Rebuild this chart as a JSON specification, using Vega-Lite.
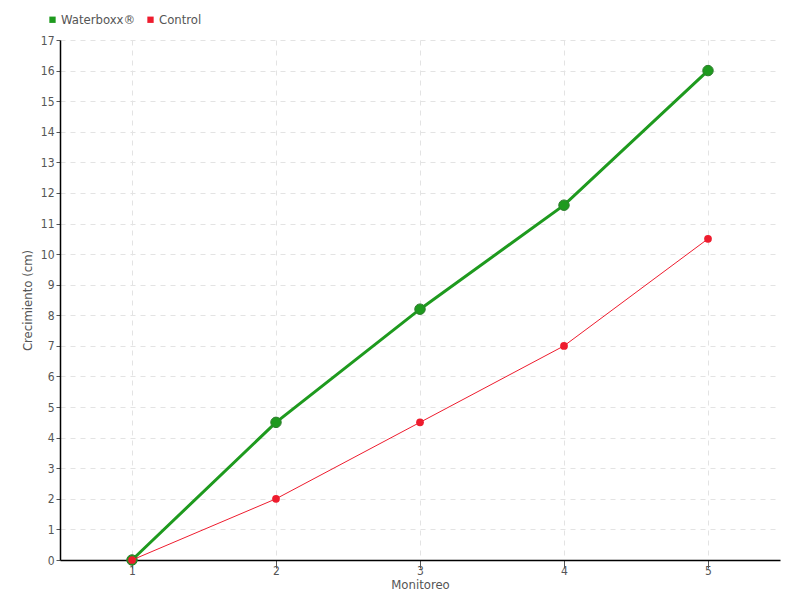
{
  "$schema": "https://vega.github.io/schema/vega-lite/v6.json",
  "width": 720,
  "height": 520,
  "autosize": {"type": "none"},
  "padding": {"left": 60, "top": 40, "right": 20, "bottom": 40},
  "background": "white",
  "config": {
    "font": "DejaVu Sans Condensed, Roboto, sans-serif",
    "view": {"stroke": null},
    "axis": {
      "labelFont": "DejaVu Sans Condensed, Roboto, sans-serif",
      "titleFont": "DejaVu Sans Condensed, Roboto, sans-serif",
      "labelColor": "#555555",
      "titleColor": "#555555",
      "labelFontSize": 12,
      "titleFontSize": 13,
      "titleFontWeight": "normal",
      "domainColor": "#000000",
      "domainWidth": 1.5,
      "tickColor": "#555555",
      "gridColor": "#e3e3e3",
      "gridDash": [5, 5],
      "gridWidth": 1,
      "labelOverlap": false
    },
    "legend": {
      "labelFont": "DejaVu Sans Condensed, Roboto, sans-serif",
      "labelFontSize": 13,
      "labelColor": "#555555"
    }
  },
  "data": {
    "values": [
      {"monitoreo": 1, "serie": "Waterboxx®", "crecimiento": 0},
      {"monitoreo": 2, "serie": "Waterboxx®", "crecimiento": 4.5},
      {"monitoreo": 3, "serie": "Waterboxx®", "crecimiento": 8.2},
      {"monitoreo": 4, "serie": "Waterboxx®", "crecimiento": 11.6},
      {"monitoreo": 5, "serie": "Waterboxx®", "crecimiento": 16.0},
      {"monitoreo": 1, "serie": "Control", "crecimiento": 0},
      {"monitoreo": 2, "serie": "Control", "crecimiento": 2},
      {"monitoreo": 3, "serie": "Control", "crecimiento": 4.5},
      {"monitoreo": 4, "serie": "Control", "crecimiento": 7},
      {"monitoreo": 5, "serie": "Control", "crecimiento": 10.5}
    ]
  },
  "encoding": {
    "x": {
      "field": "monitoreo",
      "type": "quantitative",
      "scale": {"domain": [0.5, 5.5], "nice": false, "zero": false},
      "axis": {"values": [1, 2, 3, 4, 5], "title": "Monitoreo", "titlePadding": 2, "tickSize": 8, "labelPadding": -3, "format": "d"}
    },
    "y": {
      "field": "crecimiento",
      "type": "quantitative",
      "scale": {"domain": [0, 17], "nice": false},
      "axis": {"values": [0,1,2,3,4,5,6,7,8,9,10,11,12,13,14,15,16,17], "title": "Crecimiento (cm)", "titlePadding": 6, "tickSize": 4, "labelPadding": 2}
    },
    "color": {
      "field": "serie",
      "type": "nominal",
      "scale": {"domain": ["Waterboxx®", "Control"], "range": ["#1e9a1e", "#ee1c2e"]},
      "legend": {
        "title": null,
        "orient": "none",
        "legendX": -14,
        "legendY": -27,
        "direction": "horizontal",
        "symbolType": "square",
        "symbolSize": 40,
        "symbolStrokeWidth": 0,
        "columnPadding": 8,
        "labelOffset": 2
      }
    }
  },
  "layer": [
    {
      "transform": [{"filter": "datum.serie === 'Waterboxx®'"}],
      "mark": {"type": "line", "strokeWidth": 3, "color": "#22a020"}
    },
    {
      "transform": [{"filter": "datum.serie === 'Waterboxx®'"}],
      "mark": {"type": "point", "filled": true, "size": 110, "opacity": 1, "stroke": "#2e7d2e", "strokeWidth": 1}
    },
    {
      "transform": [{"filter": "datum.serie === 'Control'"}],
      "mark": {"type": "line", "strokeWidth": 1, "color": "#ff4a55"}
    },
    {
      "transform": [{"filter": "datum.serie === 'Control'"}],
      "mark": {"type": "point", "filled": true, "size": 60, "opacity": 1}
    }
  ]
}
